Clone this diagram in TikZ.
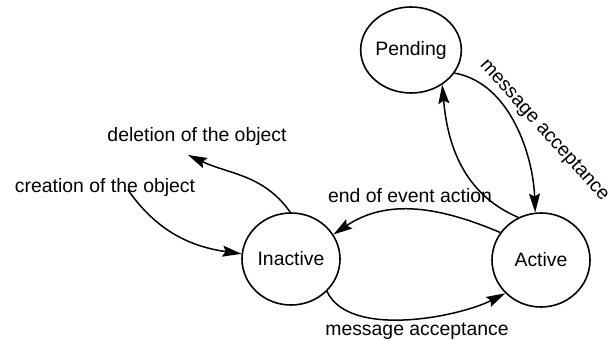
\documentclass[tikz,border=0pt]{standalone}
\usepackage{fontspec}
\setmainfont{Liberation Sans}
\usetikzlibrary{arrows.meta,shapes.geometric}
\begin{document}
\begin{tikzpicture}[x=0.5pt,y=-0.5pt,
  txt/.style={font=\fontsize{9.7}{11}\selectfont},
  state/.style={draw, ellipse, line width=0.8pt, inner sep=0pt, txt},
  lbl/.style={inner sep=0pt, txt},
  trans/.style={line width=0.75pt,
    -{Stealth[length=9.5pt,width=5.5pt,inset=1.5pt]}}]
\useasboundingbox (0,0) rectangle (613,340);

% states
\node[state, minimum width=49pt, minimum height=43pt] (pend) at (411,50) {Pending};
\node[state, minimum width=49pt, minimum height=46pt] (inact) at (291,259) {Inactive};
\node[state, minimum width=49pt, minimum height=47pt] (act) at (541,260) {Active};

% free ends of the creation / deletion transitions
\coordinate (delend) at (188,155);
\coordinate (crestart) at (128,190);

% transitions
\draw[trans] (inact.91) to[out=125,in=-25] (delend);
\draw[trans] (crestart) to[out=-55,in=172] (inact.174);
\draw[trans] (act.146) to[out=157,in=34] (inact.30);
\draw[trans] (inact.-42) to[out=-65,in=-153,looseness=0.75] (act.223);
\draw[trans] (pend.-28) to[out=-10,in=92,looseness=0.9] (act.97);
\draw[trans] (act.118) to[out=157,in=-85] (pend.-48);

% labels
\node[lbl] (ldel) at (197,136) {deletion of the object};
\node[lbl] (lcre) at (105,187) {creation of the object};
\node[lbl] (lend) at (410,196) {end of event action};
\node[lbl] (lmsg) at (417,331) {message acceptance};
\node[lbl, rotate=-48] (lmsg2) at (544,131) {message acceptance};
\end{tikzpicture}
\end{document}
